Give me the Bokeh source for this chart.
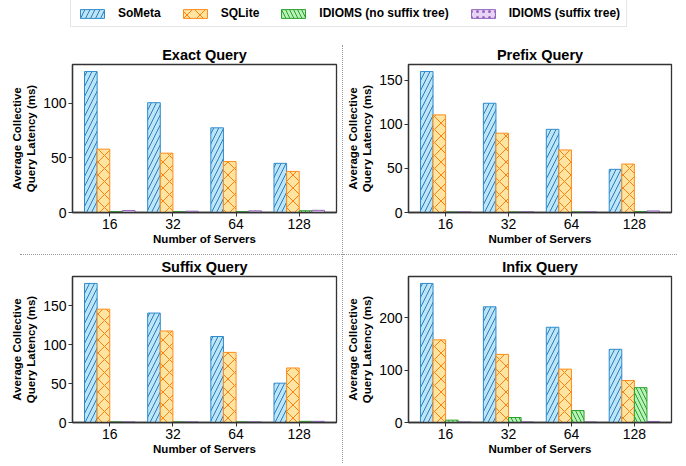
from bokeh.plotting import figure
from bokeh.models import (ColumnDataSource, Range1d, FixedTicker, SingleIntervalTicker,
                          Legend, LegendItem, Div)
from bokeh.layouts import column, row
from bokeh.transform import dodge
from bokeh.embed import file_html
from bokeh.resources import INLINE

# ---------------- data ----------------
servers = ["16", "32", "64", "128"]
series_names = ["SoMeta", "SQLite", "IDIOMS (no suffix tree)", "IDIOMS (suffix tree)"]

exact_someta = [129.0, 100.5, 77.5, 45.0]
exact_sqlite = [58.0, 54.3, 46.6, 37.6]
exact_idioms_nst = [0.8, 0.8, 0.8, 1.6]
exact_idioms_st = [1.8, 1.2, 1.5, 2.0]

prefix_someta = [160.0, 124.0, 94.4, 49.0]
prefix_sqlite = [110.8, 90.0, 71.0, 55.0]
prefix_idioms_nst = [0.6, 0.6, 0.6, 1.0]
prefix_idioms_st = [0.8, 0.8, 0.8, 1.8]

suffix_someta = [178.5, 140.5, 110.4, 50.5]
suffix_sqlite = [145.5, 117.5, 90.0, 70.0]
suffix_idioms_nst = [0.8, 0.8, 0.8, 1.5]
suffix_idioms_st = [0.8, 0.8, 0.8, 1.5]

infix_someta = [265.0, 220.5, 181.5, 139.5]
infix_sqlite = [157.5, 129.8, 101.7, 80.0]
infix_idioms_nst = [4.5, 9.5, 22.8, 66.4]
infix_idioms_st = [1.0, 1.0, 1.0, 2.0]

# ---------------- styles ----------------
FONT = "Liberation Sans"
STYLES = [
    dict(fill_color="#bde5f8", line_color="#2f8ccc", hatch_pattern="/", hatch_color="#2b7bba",
         hatch_scale=10, hatch_weight=1),
    dict(fill_color="#fde4a0", line_color="#ff8c1a", hatch_pattern="x", hatch_color="#ff7f0e",
         hatch_scale=13, hatch_weight=1),
    dict(fill_color="#b8f2b8", line_color="#2ca02c", hatch_pattern="\\", hatch_color="#2ca02c",
         hatch_scale=8, hatch_weight=1),
    dict(fill_color="#e8d2f5", line_color="#9467bd", hatch_pattern=".", hatch_color="#9467bd",
         hatch_scale=6, hatch_weight=1),
]
OFFSETS = [-0.3, -0.1, 0.1, 0.3]


def make_source(vals):
    return ColumnDataSource(dict(x=list(range(len(servers))),
                                 s0=vals[0], s1=vals[1], s2=vals[2], s3=vals[3]))


def panel(title, vals, tick_int, width, height, left, right, top, bottom):
    ymax = max(max(v) for v in vals) * 1.05
    p = figure(width=width, height=height,
               x_range=Range1d(-0.59, 3.59), y_range=Range1d(0, ymax),
               output_backend="svg", toolbar_location=None,
               min_border_left=left, min_border_right=right,
               min_border_top=top, min_border_bottom=bottom,
               title=title)
    src = make_source(vals)
    for k, (off, st) in enumerate(zip(OFFSETS, STYLES)):
        p.vbar(x=dodge("x", off), top="s%d" % k, width=0.2, bottom=0, source=src,
               line_width=1, **st)
    p.grid.visible = False
    p.outline_line_color = "#333333"
    p.outline_line_width = 1.3
    p.background_fill_color = "white"
    p.border_fill_color = "white"

    p.title.text_font = FONT
    p.title.text_font_size = "14.5px"
    p.title.text_font_style = "bold"
    p.title.align = "center"
    p.title.standoff = 3
    p.title.text_color = "black"

    p.xaxis.ticker = FixedTicker(ticks=list(range(len(servers))))
    p.xaxis.major_label_overrides = {i: s for i, s in enumerate(servers)}
    p.yaxis.ticker = SingleIntervalTicker(interval=tick_int)
    for ax in (p.xaxis[0], p.yaxis[0]):
        ax.axis_line_color = "#333333"
        ax.axis_line_width = 1.3
        ax.major_tick_in = 0
        ax.major_tick_out = 4
        ax.major_tick_line_color = "#333333"
        ax.minor_tick_line_color = None
        ax.major_label_text_font = FONT
        ax.major_label_text_font_size = "14px"
        ax.major_label_text_color = "black"
        ax.major_label_standoff = 2
        ax.axis_label_text_font = FONT
        ax.axis_label_text_font_size = "11.5px"
        ax.axis_label_text_font_style = "bold"
        ax.axis_label_text_color = "black"
        ax.axis_label_standoff = 3
    p.xaxis.axis_label_standoff = 1
    p.xaxis.axis_label = "Number of Servers"
    p.yaxis.axis_label = "Average Collective\nQuery Latency (ms)"
    return p


LW, RW = 342, 334
LEGH, TOPH, BOTH = 38, 216, 209

f1 = panel("Exact Query", [exact_someta, exact_sqlite, exact_idioms_nst, exact_idioms_st],
           50, LW, TOPH, 72, 6, 26, 42)
f2 = panel("Prefix Query", [prefix_someta, prefix_sqlite, prefix_idioms_nst, prefix_idioms_st],
           50, RW, TOPH, 61, 6, 26, 42)
f3 = panel("Suffix Query", [suffix_someta, suffix_sqlite, suffix_idioms_nst, suffix_idioms_st],
           50, LW, BOTH, 72, 6, 20, 42)
f4 = panel("Infix Query", [infix_someta, infix_sqlite, infix_idioms_nst, infix_idioms_st],
           100, RW, BOTH, 61, 6, 20, 42)

# ---------------- legend strip (renderers are muted to invisibility; keys remain) ----------------
lf = figure(width=LW + 1 + RW, height=LEGH, x_range=Range1d(-0.59, 3.59),
            y_range=Range1d(0, 1),
            output_backend="svg", toolbar_location=None, min_border=0,
            x_axis_type=None, y_axis_type=None)
lf.outline_line_color = None
lf.grid.visible = False
leg_src = make_source([exact_someta, exact_sqlite, exact_idioms_nst, exact_idioms_st])
rs = []
for k, (off, st) in enumerate(zip(OFFSETS, STYLES)):
    r = lf.vbar(x=dodge("x", off), top="s%d" % k, bottom=0, width=0.2, source=leg_src,
                line_width=1, muted_alpha=0, **st)
    r.muted = True
    rs.append(r)
leg = Legend(items=[LegendItem(label=n, renderers=[r]) for n, r in zip(series_names, rs)],
             orientation="horizontal", location=(70, 11))
leg.glyph_width = 30
leg.glyph_height = 11
leg.label_height = 12
leg.label_standoff = 11
leg.spacing = 19
leg.padding = 6
leg.margin = 0
leg.label_text_font = FONT
leg.label_text_font_size = "12px"
leg.label_text_font_style = "bold"
leg.label_text_color = "black"
leg.border_line_color = "#cccccc"
leg.border_line_width = 1
lf.add_layout(leg)

# ---------------- dotted separators ----------------
hsep_l = Div(text="", width=LW - 20, height=1, margin=(0, 0, 0, 20),
             styles={"border-top": "1.5px dotted #9a9a9a"})
hsep_r = Div(text="", width=RW, height=1, margin=0,
             styles={"border-top": "1.5px dotted #9a9a9a"})
vsep = Div(text="", width=1, height=TOPH + 1 + BOTH - 8, margin=(7, 0, 0, 0),
           styles={"border-left": "1.5px dotted #9a9a9a"})

layout = column(lf, row(column(f1, hsep_l, f3), vsep, column(f2, hsep_r, f4)))

open("out.html", "w").write(file_html(layout, INLINE))
